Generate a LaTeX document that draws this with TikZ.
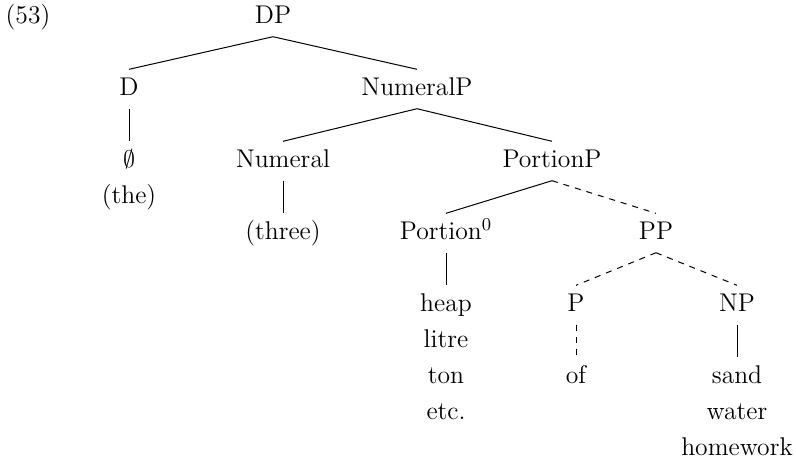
\documentclass[tikz,border=0pt]{standalone}
\usepackage{amsmath}
\usepackage{amssymb}
\usepackage{tikz}
\usetikzlibrary{positioning}

\tikzset{cat/.style={inner xsep=2pt, inner ysep=3.7pt, text height=9pt, text depth=2.8pt}}

\begin{document}
\begin{tikzpicture}[x=0.5pt, y=-0.5pt, node distance=18pt, line width=0.5pt, font=\fontsize{12.8pt}{15pt}\selectfont]
    \useasboundingbox (0,0) rectangle (796,463);
    \node (ex) at (28,17) {(53)};

    \node[cat] (DP) at (273,17) {DP};
    \node[cat] (D) at (129,89) {D};
    \node[cat] (NumP) at (417,89) {NumeralP};
    \node[cat] (empty) at (129,161) {$\emptyset$};
    \node[cat] (the) [below of=empty] {(the)};
    \node[cat] (Num) at (283,161) {Numeral};
    \node[cat] (PortP) at (552,161) {PortionP};
    \node[cat] (three) at (283,233) {(three)};
    \node[cat] (Port) at (446,233) {Portion$^0$};
    \node[cat] (PP) at (656,233) {PP};
    \node[cat] (heap) at (446,305) {heap};
    \node[cat] (litre) [below of=heap] {litre};
    \node[cat] (ton) [below of=litre] {ton};
    \node[cat] (etc) [below of=ton] {etc.};
    \node[cat] (P) at (576,305) {P};
    \node[cat] (NP) at (737,305) {NP};
    \node[cat] (of) at (576,377) {of};
    \node[cat] (sand) at (737,377) {sand};
    \node[cat] (water) [below of=sand] {water};
    \node[cat] (hw) [below of=water] {homework};

    \path (DP.south) edge (D.north)
          (DP.south) edge (NumP.north)
          (D.south) edge (empty.north)
          (NumP.south) edge (Num.north)
          (NumP.south) edge (PortP.north)
          (Num.south) edge (three.north)
          (PortP.south) edge (Port.north)
          (PortP.south) edge [dashed] (PP.north)
          (Port.south) edge (heap.north)
          (PP.south) edge [dashed] (P.north)
          (PP.south) edge [dashed] (NP.north)
          (P.south) edge [dashed] (of.north)
          (NP.south) edge (sand.north);
  \end{tikzpicture}
\end{document}
